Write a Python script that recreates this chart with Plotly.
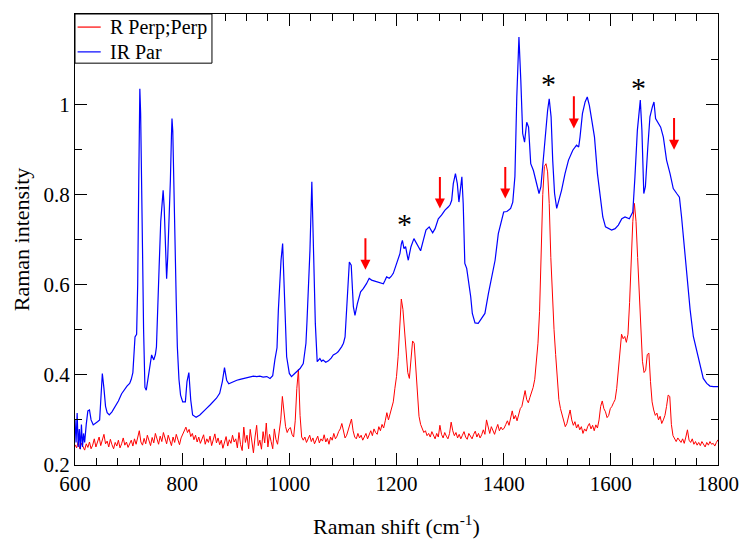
import plotly.graph_objects as go

# ---- Raman spectrum, perpendicular/perpendicular polarisation (3 cm-1 grid from 600) ----
red_600 = [0.245, 0.238, 0.252, 0.236, 0.248, 0.241, 0.233, 0.247, 0.239, 0.251,
           0.236, 0.244, 0.258, 0.24, 0.249, 0.262, 0.243, 0.255, 0.268, 0.247,
           0.253, 0.24, 0.257, 0.245, 0.236, 0.25, 0.242, 0.255, 0.238, 0.247,
           0.26, 0.244, 0.251, 0.239]
red_702 = [0.248, 0.255, 0.242, 0.258, 0.246, 0.262, 0.276, 0.251, 0.244, 0.259,
           0.247, 0.266, 0.252, 0.243, 0.261, 0.249, 0.27, 0.255, 0.246, 0.264,
           0.252, 0.272, 0.258, 0.247, 0.266, 0.254, 0.243, 0.262, 0.25, 0.268,
           0.257, 0.245, 0.26]
red_801 = [0.268, 0.276, 0.284, 0.272, 0.279, 0.263, 0.27, 0.256, 0.266, 0.251,
           0.262, 0.248, 0.259, 0.267, 0.246, 0.258, 0.25, 0.264, 0.243, 0.257,
           0.269, 0.249, 0.26, 0.245, 0.255, 0.237, 0.252, 0.263, 0.242, 0.256,
           0.248, 0.266, 0.251]
red_900 = [0.258, 0.238, 0.272, 0.245, 0.232, 0.284, 0.25, 0.266, 0.236, 0.279,
           0.247, 0.227, 0.262, 0.288, 0.243, 0.255, 0.235, 0.274, 0.249, 0.293,
           0.24, 0.268, 0.252, 0.236, 0.28, 0.257, 0.246, 0.272, 0.3, 0.352,
           0.31, 0.285, 0.272, 0.28]
red_1002 = [0.283, 0.268, 0.262, 0.298, 0.37, 0.412, 0.31, 0.262, 0.255, 0.262,
            0.25, 0.258, 0.266, 0.252, 0.26, 0.247, 0.256, 0.264, 0.249, 0.258,
            0.253, 0.267, 0.251, 0.259, 0.246, 0.262, 0.255, 0.27, 0.258, 0.264,
            0.274, 0.28, 0.292]
red_1101 = [0.272, 0.26, 0.266, 0.278, 0.288, 0.302, 0.276, 0.262, 0.258, 0.27,
            0.26, 0.266, 0.255, 0.264, 0.27, 0.258, 0.267, 0.276, 0.265, 0.28,
            0.272, 0.268, 0.285, 0.276, 0.29, 0.282, 0.298, 0.316, 0.3, 0.312,
            0.325, 0.34, 0.37]
red_1200 = [0.396, 0.44, 0.5, 0.568, 0.545, 0.5, 0.45, 0.405, 0.392, 0.43,
            0.475, 0.47, 0.41, 0.345, 0.308, 0.29, 0.281, 0.272, 0.276, 0.265,
            0.27, 0.262, 0.274, 0.266, 0.258, 0.27, 0.262, 0.288, 0.268, 0.26,
            0.272, 0.264, 0.258, 0.27]
red_1302 = [0.295, 0.276, 0.265, 0.272, 0.26, 0.268, 0.258, 0.266, 0.274, 0.262,
            0.257, 0.27, 0.263, 0.258, 0.268, 0.275, 0.262, 0.27, 0.26, 0.267,
            0.278, 0.268, 0.3, 0.282, 0.27, 0.285, 0.275, 0.268, 0.28, 0.29,
            0.276, 0.284, 0.278]
red_1401 = [0.282, 0.29, 0.298, 0.288, 0.305, 0.32, 0.302, 0.31, 0.298, 0.315,
            0.325, 0.33, 0.352, 0.365, 0.345, 0.338, 0.35, 0.362, 0.372, 0.39,
            0.425, 0.47, 0.54, 0.66, 0.8, 0.862, 0.868, 0.85, 0.78, 0.66,
            0.57, 0.5, 0.445]
red_1500 = [0.39, 0.345, 0.325, 0.31, 0.298, 0.285, 0.292, 0.305, 0.322, 0.3,
            0.288, 0.296, 0.282, 0.29, 0.278, 0.285, 0.27, 0.28, 0.275, 0.286,
            0.292, 0.28, 0.288, 0.276, 0.289, 0.282, 0.3, 0.33, 0.342, 0.325,
            0.318, 0.305, 0.31, 0.325]
red_1602 = [0.33, 0.338, 0.345, 0.37, 0.415, 0.46, 0.49, 0.48, 0.485, 0.472,
            0.49, 0.56, 0.66, 0.74, 0.78, 0.74, 0.66, 0.575, 0.48, 0.43,
            0.405, 0.41, 0.445, 0.448, 0.385, 0.34, 0.322, 0.31, 0.315, 0.3,
            0.308, 0.292, 0.3]
red_1701 = [0.31, 0.33, 0.355, 0.352, 0.29, 0.265, 0.258, 0.252, 0.26, 0.254,
            0.25, 0.258, 0.248, 0.262, 0.278, 0.255, 0.25, 0.258, 0.246, 0.252,
            0.244, 0.25, 0.243, 0.252, 0.246, 0.24, 0.25, 0.244, 0.252, 0.246,
            0.248, 0.242, 0.25, 0.256]

red_y = (red_600 + red_702 + red_801 + red_900 + red_1002 + red_1101 +
         red_1200 + red_1302 + red_1401 + red_1500 + red_1602 + red_1701)
assert len(red_y) == 401, len(red_y)
red_x = [600 + 3 * i for i in range(len(red_y))]

# ---- IR spectrum, parallel polarisation ----
blue_x = [600, 602, 604, 606, 608, 610, 612, 614, 616, 618, 621, 624, 627, 630, 634,
          638, 642, 646, 648, 651, 654, 657, 660, 664, 669, 675, 681, 687, 692, 697,
          702, 705, 708, 710, 712, 715, 717, 719, 721, 722.5, 724, 726, 728, 730.5, 733,
          736, 739, 743, 747, 750, 752, 754, 757, 760, 762, 764.5, 766.5, 768, 771, 773,
          775, 778, 780, 781, 782.5, 784, 787, 789, 791, 794, 797, 801, 806, 809, 812.5,
          816, 819.5, 826, 833, 840, 846, 852, 858, 864, 870, 875, 879, 883, 887, 895,
          902, 908, 914, 920, 926, 933, 939, 945, 951, 958, 964, 969, 973, 977, 979.5,
          982, 984.5, 987.5, 990.5, 993, 995, 1000, 1004, 1010, 1015, 1020, 1026, 1031, 1033, 1035.5,
          1038.5, 1042, 1043.5, 1045.5, 1048.5, 1052, 1057, 1060, 1063, 1068, 1073, 1078, 1082, 1087, 1091,
          1097.5, 1101, 1104, 1106, 1108, 1110, 1112, 1115.5, 1117.5, 1119.5, 1122.5, 1127, 1133, 1138, 1144,
          1147, 1149, 1153.5, 1158, 1163, 1169, 1175.5, 1178, 1181.5, 1186.5, 1190, 1194, 1200, 1206.5, 1209,
          1211, 1214, 1217, 1220, 1222, 1224.5, 1227, 1232.5, 1237.5, 1241, 1245, 1250, 1255, 1261, 1264,
          1267.5, 1272, 1278, 1284, 1290.5, 1296.5, 1300, 1303, 1306, 1310, 1313.5, 1316.5, 1319.5, 1322, 1324.5,
          1326, 1327.5, 1331, 1334.5, 1338.5, 1341.5, 1346.5, 1352.5, 1359, 1365, 1371.5, 1377.5, 1384, 1390, 1396,
          1400, 1406, 1413, 1417, 1421, 1424.5, 1428.5, 1432, 1435.5, 1439, 1443, 1446.5, 1450.5, 1455.5, 1460.5,
          1466, 1469.5, 1474, 1478.5, 1482, 1485, 1488.5, 1491.5, 1495, 1499, 1503, 1508, 1514.5, 1521, 1529,
          1536, 1540, 1542.5, 1547, 1552, 1556, 1560, 1564.5, 1569.5, 1575, 1580, 1585, 1590, 1595.5, 1601.5,
          1608, 1614, 1620.5, 1626.5, 1634.5, 1641, 1645, 1649.5, 1655, 1658, 1661.5, 1664.5, 1669, 1673, 1677.5,
          1680.5, 1683.5, 1688.5, 1693, 1698, 1704, 1710.5, 1716.5, 1723, 1728, 1732, 1736.5, 1741.5, 1748, 1754,
          1760, 1766.5, 1772.5, 1779, 1785, 1791.5, 1800]
blue_y = [0.30, 0.25, 0.315, 0.24, 0.28, 0.235, 0.29, 0.24, 0.27, 0.25, 0.29, 0.32, 0.322, 0.30, 0.289,
          0.292, 0.296, 0.30, 0.34, 0.403, 0.37, 0.33, 0.316, 0.311, 0.318, 0.329, 0.342, 0.358, 0.367, 0.375,
          0.381, 0.39, 0.405, 0.45, 0.484, 0.49, 0.6, 0.831, 1.034, 0.98, 0.88, 0.68, 0.5, 0.372, 0.366,
          0.39, 0.418, 0.444, 0.433, 0.445, 0.462, 0.52, 0.639, 0.74, 0.775, 0.809, 0.77, 0.72, 0.613, 0.66,
          0.72, 0.831, 0.93, 0.968, 0.94, 0.868, 0.684, 0.56, 0.462, 0.39, 0.355, 0.34, 0.34, 0.385, 0.405,
          0.344, 0.311, 0.306, 0.311, 0.318, 0.326, 0.333, 0.34, 0.348, 0.359, 0.385, 0.416, 0.388, 0.38, 0.385,
          0.388, 0.39, 0.392, 0.394, 0.395, 0.397, 0.396, 0.397, 0.395, 0.396, 0.392, 0.398, 0.433, 0.46, 0.543,
          0.6, 0.654, 0.691, 0.603, 0.5, 0.44, 0.403, 0.396, 0.403, 0.408, 0.414, 0.425, 0.47, 0.52, 0.58,
          0.676, 0.828, 0.76, 0.676, 0.514, 0.429, 0.436, 0.43, 0.433, 0.428, 0.431, 0.437, 0.444, 0.447, 0.451,
          0.462, 0.47, 0.484, 0.53, 0.58, 0.63, 0.65, 0.643, 0.6, 0.551, 0.532, 0.558, 0.584, 0.591, 0.602,
          0.608, 0.614, 0.61, 0.608, 0.606, 0.604, 0.602, 0.608, 0.617, 0.614, 0.618, 0.625, 0.647, 0.669, 0.69,
          0.698, 0.68, 0.684, 0.665, 0.654, 0.67, 0.684, 0.702, 0.691, 0.683, 0.675, 0.698, 0.721, 0.728, 0.722,
          0.715, 0.724, 0.746, 0.754, 0.765, 0.772, 0.777, 0.787, 0.824, 0.846, 0.824, 0.783, 0.824, 0.839, 0.78,
          0.7, 0.647, 0.636, 0.61, 0.573, 0.536, 0.515, 0.514, 0.525, 0.536, 0.58, 0.617, 0.654, 0.713, 0.743,
          0.761, 0.762, 0.769, 0.783, 0.84, 1.016, 1.149, 1.053, 0.935, 0.916, 0.96, 0.949, 0.868, 0.853, 0.831,
          0.802, 0.817, 0.883, 0.942, 0.986, 1.012, 0.972, 0.876, 0.802, 0.769, 0.787, 0.809, 0.846, 0.876, 0.898,
          0.909, 0.905, 0.927, 0.979, 1.005, 1.016, 0.997, 0.964, 0.927, 0.846, 0.794, 0.75, 0.728, 0.724, 0.721,
          0.724, 0.732, 0.746, 0.75, 0.746, 0.761, 0.839, 0.942, 1.009, 0.942, 0.802, 0.817, 0.905, 0.972, 0.994,
          1.005, 0.968, 0.957, 0.949, 0.927, 0.876, 0.846, 0.813, 0.802, 0.794, 0.75, 0.691, 0.617, 0.544, 0.485,
          0.455, 0.418, 0.392, 0.381, 0.375, 0.374, 0.374]
assert len(blue_x) == len(blue_y), (len(blue_x), len(blue_y))

series_names = ["R Perp;Perp", "IR Par"]
series_colors = ["#ff0000", "#0000ff"]

# ---- marked bands: arrows (tip / tail) and asterisks ----
arrow_x = [1142, 1281, 1403, 1531, 1718]
arrow_tip = [0.633, 0.769, 0.791, 0.946, 0.899]
arrow_tail = [0.706, 0.842, 0.864, 1.021, 0.973]
star_x = [1214, 1484, 1651]
star_y = [0.739, 1.051, 1.042]

x_ticks = [600, 800, 1000, 1200, 1400, 1600, 1800]
y_ticks = [0.2, 0.4, 0.6, 0.8, 1.0]
y_tick_text = ["0.2", "0.4", "0.6", "0.8", "1"]

FONT = '"Liberation Serif", "Times New Roman", Tinos, serif'

fig = go.Figure()
fig.add_trace(go.Scatter(x=red_x, y=red_y, mode="lines", name=series_names[0],
                         line=dict(color=series_colors[0], width=1), showlegend=False))
fig.add_trace(go.Scatter(x=blue_x, y=blue_y, mode="lines", name=series_names[1],
                         line=dict(color=series_colors[1], width=1.2), showlegend=False))

annotations = []
shapes = []
for xa, yt, ya in zip(arrow_x, arrow_tip, arrow_tail):
    annotations.append(dict(x=xa, y=yt, ax=xa, ay=ya, xref="x", yref="y",
                            axref="x", ayref="y", text="", showarrow=True,
                            arrowhead=2, arrowsize=1, arrowwidth=2,
                            arrowcolor="#ff0000", standoff=0))
for xs, ys in zip(star_x, star_y):
    annotations.append(dict(x=xs, y=ys, xref="x", yref="y", text="*",
                            showarrow=False, yshift=-2,
                            font=dict(family=FONT, size=30, color="black")))

# boxed key in the upper-left corner of the plotting area
key_right, key_bottom = 0.213, 0.891
key_rows = [0.971, 0.916]
shapes.append(dict(type="rect", xref="paper", yref="paper", x0=0, x1=key_right,
                   y0=key_bottom, y1=1, line=dict(color="black", width=1),
                   fillcolor="white", layer="above"))
for name, color, yr in zip(series_names, series_colors, key_rows):
    shapes.append(dict(type="line", xref="paper", yref="paper", x0=0.004, x1=0.04,
                       y0=yr, y1=yr, line=dict(color=color, width=1.2), layer="above"))
    annotations.append(dict(x=0.052, y=yr, xref="paper", yref="paper", text=name,
                            showarrow=False, xanchor="left", yanchor="middle",
                            font=dict(family=FONT, size=20, color="black")))

axis_common = dict(showline=True, linecolor="black", linewidth=1, mirror="ticks",
                   ticks="inside", tickcolor="black", tickwidth=1, ticklen=12,
                   showgrid=False, zeroline=False, automargin=False,
                   tickfont=dict(family=FONT, size=21, color="black"))

fig.update_layout(
    width=745, height=539,
    margin=dict(l=75, r=27, t=14, b=74),
    paper_bgcolor="white", plot_bgcolor="white",
    font=dict(family=FONT, color="black"),
    xaxis=dict(range=[600, 1800], tickvals=x_ticks,
               minor=dict(dtick=40, tick0=600, ticks="inside", ticklen=7,
                          tickcolor="black", tickwidth=1, showgrid=False),
               title=dict(text="Raman shift (cm<sup>-1</sup>)",
                          font=dict(family=FONT, size=22), standoff=25),
               **axis_common),
    yaxis=dict(range=[0.2, 1.2], tickvals=y_ticks, ticktext=y_tick_text,
               minor=dict(dtick=0.1, tick0=0.2, ticks="inside", ticklen=7,
                          tickcolor="black", tickwidth=1, showgrid=False),
               title=dict(text="Raman intensity",
                          font=dict(family=FONT, size=22), standoff=7),
               **axis_common),
    shapes=shapes,
    annotations=annotations,
    showlegend=False,
)

fig.write_html("out.html")
